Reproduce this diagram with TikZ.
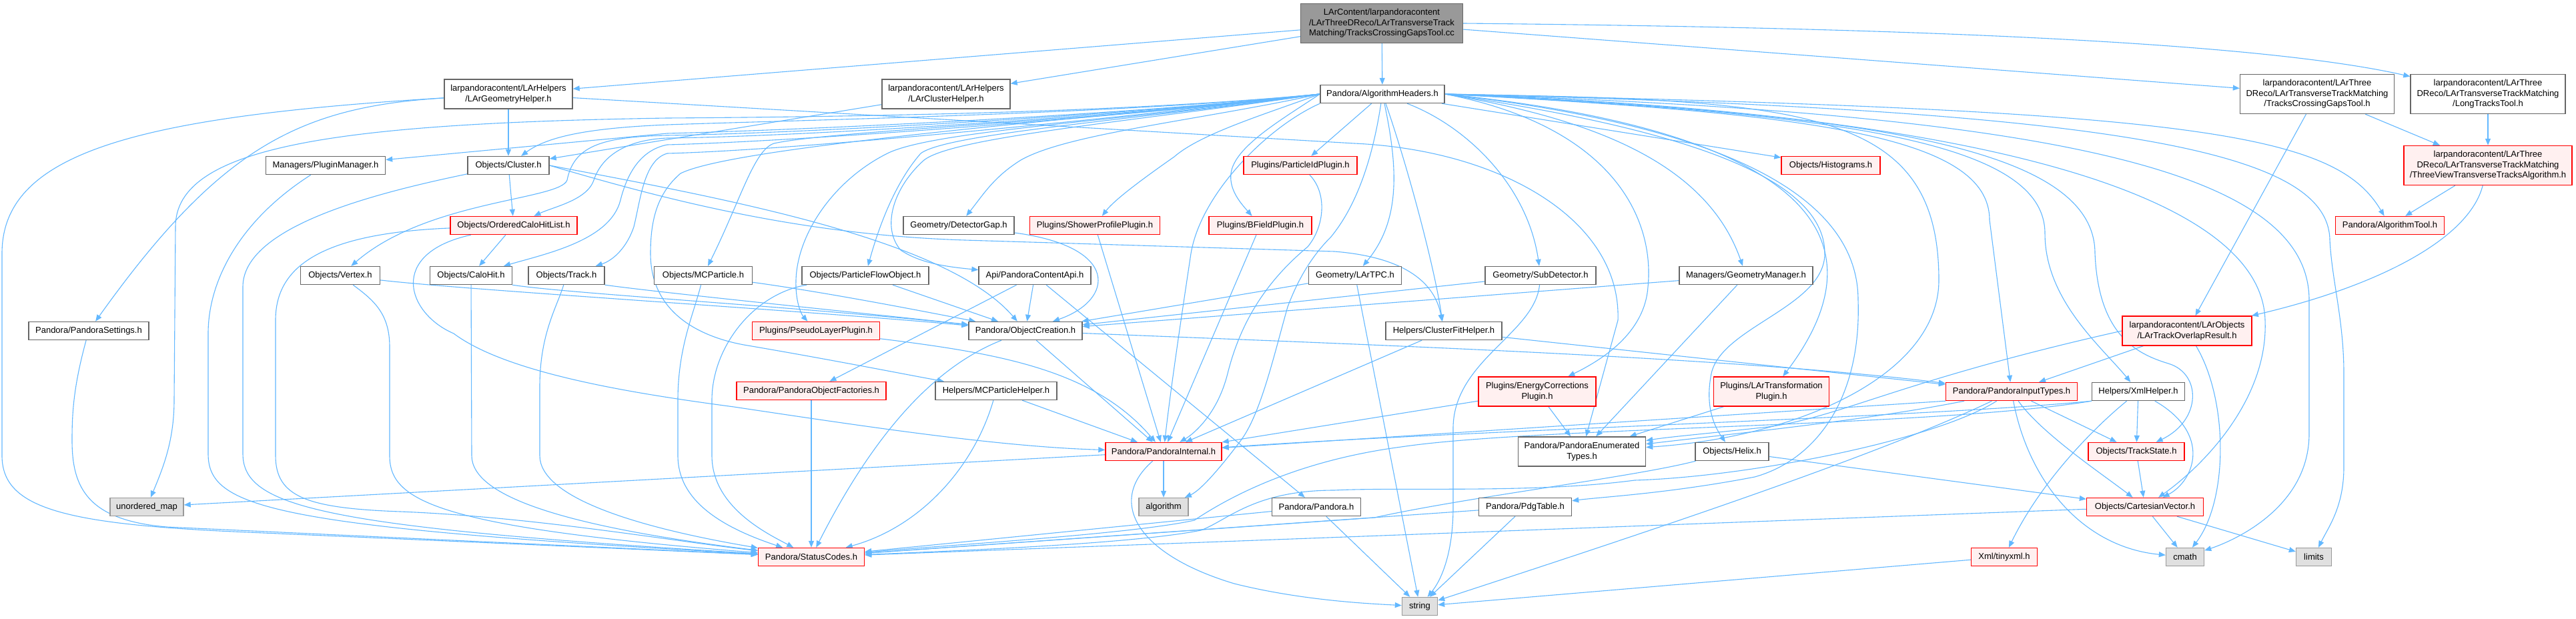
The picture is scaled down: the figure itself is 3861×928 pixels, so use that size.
\documentclass[tikz,border=0pt]{standalone}
\usepackage{fontspec}
\setmainfont{Liberation Sans}
\usetikzlibrary{arrows.meta}
\definecolor{edgeblue}{HTML}{63B8FF}
\definecolor{nborder}{HTML}{666666}
\definecolor{redfill}{HTML}{FFF0F0}
\definecolor{sysfill}{HTML}{E0E0E0}
\definecolor{sysborder}{HTML}{999999}
\definecolor{topfill}{HTML}{999999}
\pgfdeclarelayer{bg}
\pgfsetlayers{bg,main}
\tikzset{
  nbox/.style={draw=nborder, fill=white, line width=1.4pt, inner xsep=8pt, inner ysep=3pt,
    minimum height=27pt, align=center, font=\fontsize{13pt}{15.5pt}\selectfont},
  rbox/.style={nbox, draw=red, fill=redfill},
  sbox/.style={nbox, draw=sysborder, fill=sysfill},
  tbox/.style={nbox, draw=nborder, fill=topfill},
  mw/.style={minimum width=#1pt},
  twol/.style={minimum height=44pt},
  threel/.style={minimum height=59pt},
  ed/.style={draw=edgeblue, line width=1.1pt, -{Triangle[length=10pt,width=8pt]}}
}
\begin{document}
\begin{tikzpicture}[x=1pt,y=-1pt]
\useasboundingbox (0,0) rectangle (3861,928);
% nodes
\node[tbox,threel,mw=243] (top) at (2071,35) {LArContent/larpandoracontent\\/LArThreeDReco/LArTransverseTrack\\Matching/TracksCrossingGapsTool.cc};
\node[nbox,twol,mw=192] (geo) at (762,141) {larpandoracontent/LArHelpers\\/LArGeometryHelper.h};
\node[nbox,twol,mw=192] (clh) at (1418,141) {larpandoracontent/LArHelpers\\/LArClusterHelper.h};
\node[nbox,mw=186] (ah) at (2072,141) {Pandora/AlgorithmHeaders.h};
\node[nbox,threel,mw=231] (tcgh) at (3473,141) {larpandoracontent/LArThree\\DReco/LArTransverseTrackMatching\\/TracksCrossingGapsTool.h};
\node[nbox,threel,mw=232] (ltt) at (3729,141) {larpandoracontent/LArThree\\DReco/LArTransverseTrackMatching\\/LongTracksTool.h};
\node[nbox,mw=179] (pm) at (488,248) {Managers/PluginManager.h};
\node[nbox,mw=122] (cl) at (762,248) {Objects/Cluster.h};
\node[rbox,mw=170] (pid) at (1949,248) {Plugins/ParticleIdPlugin.h};
\node[rbox,mw=148] (hist) at (2744,248) {Objects/Histograms.h};
\node[rbox,threel,mw=252] (tvt) at (3729,248) {larpandoracontent/LArThree\\DReco/LArTransverseTrackMatching\\/ThreeViewTransverseTracksAlgorithm.h};
\node[rbox,mw=190] (ochl) at (770,338) {Objects/OrderedCaloHitList.h};
\node[nbox,mw=166] (dg) at (1437,338) {Geometry/DetectorGap.h};
\node[rbox,mw=195] (spp) at (1641,338) {Plugins/ShowerProfilePlugin.h};
\node[rbox,mw=154] (bfp) at (1889,338) {Plugins/BFieldPlugin.h};
\node[rbox,mw=163] (at) at (3582,338) {Pandora/AlgorithmTool.h};
\node[nbox,mw=119] (vx) at (510,413) {Objects/Vertex.h};
\node[nbox,mw=123] (ch) at (706,413) {Objects/CaloHit.h};
\node[nbox,mw=114] (tr) at (849,413) {Objects/Track.h};
\node[nbox,mw=147] (mcp) at (1054,413) {Objects/MCParticle.h};
\node[nbox,mw=190] (pfo) at (1297,413) {Objects/ParticleFlowObject.h};
\node[nbox,mw=168] (api) at (1551,413) {Api/PandoraContentApi.h};
\node[nbox,mw=139] (tpc) at (2031,413) {Geometry/LArTPC.h};
\node[nbox,mw=166] (sd) at (2309,413) {Geometry/SubDetector.h};
\node[nbox,mw=200] (gm) at (2617,413) {Managers/GeometryManager.h};
\node[nbox,mw=180] (ps) at (133,496) {Pandora/PandoraSettings.h};
\node[rbox,mw=191] (plp) at (1223,496) {Plugins/PseudoLayerPlugin.h};
\node[nbox,mw=170] (oc) at (1537,496) {Pandora/ObjectCreation.h};
\node[nbox,mw=174] (cfh) at (2164,496) {Helpers/ClusterFitHelper.h};
\node[rbox,twol,mw=194] (tor) at (3278,496) {larpandoracontent/LArObjects\\/LArTrackOverlapResult.h};
\node[rbox,mw=224] (pof) at (1216,586) {Pandora/PandoraObjectFactories.h};
\node[nbox,mw=182] (mch) at (1493,586) {Helpers/MCParticleHelper.h};
\node[rbox,twol,mw=176] (ecp) at (2304,587) {Plugins/EnergyCorrections\\Plugin.h};
\node[rbox,twol,mw=173] (ltp) at (2655,587) {Plugins/LArTransformation\\Plugin.h};
\node[rbox,mw=197] (pit) at (3015,587) {Pandora/PandoraInputTypes.h};
\node[nbox,mw=139] (xh) at (3205,587) {Helpers/XmlHelper.h};
\node[rbox,mw=174] (pi) at (1744,677) {Pandora/PandoraInternal.h};
\node[nbox,twol,mw=191] (pet) at (2371,677) {Pandora/PandoraEnumerated\\Types.h};
\node[nbox,mw=110] (hx) at (2596,677) {Objects/Helix.h};
\node[rbox,mw=144] (ts) at (3202,677) {Objects/TrackState.h};
\node[sbox,mw=110] (um) at (220,760) {unordered\_map};
\node[sbox,mw=74] (alg) at (1744,760) {algorithm};
\node[nbox,mw=133] (pan) at (1973,760) {Pandora/Pandora.h};
\node[nbox,mw=139] (pdg) at (2286,760) {Pandora/PdgTable.h};
\node[rbox,mw=175] (cv) at (3215,760) {Objects/CartesianVector.h};
\node[rbox,mw=159] (sc) at (1216,835) {Pandora/StatusCodes.h};
\node[rbox,mw=99] (txml) at (3004,835) {Xml/tinyxml.h};
\node[sbox,mw=57] (cmath) at (3275,835) {cmath};
\node[sbox,mw=53] (lim) at (3468,835) {limits};
\node[sbox,mw=53] (str) at (2128,909) {string};

\begin{pgfonlayer}{bg}
\fill[white] (0,0) rectangle (3861,928);
% top
\draw[ed] (top) -- (geo);
\draw[ed] (top) -- (clh);
\draw[ed] (top) -- (ah);
\draw[ed] (top) -- (tcgh);
\draw[ed] (top.east) .. controls (2700,40) and (3350,55) .. (ltt);
% geometry helper
\draw[ed] (geo) -- (cl);
\draw[ed] (geo) .. controls (450,160) and (330,220) .. (ps);
\draw[ed] (geo) .. controls (200,175) and (3,230) .. (3,380) -- (3,683) .. controls (3,760) and (90,785) .. (350,797) -- (sc);
\draw[ed] (geo) -- (2030,215) .. controls (2250,225) and (2430,330) .. (2425,480) -- (pet);
\draw[ed] (clh) -- (cl);
% algorithm headers, left fan
\draw[ed] (ah.west) .. controls (1700,168) and (1300,175) .. (1000,177) .. controls (500,185) and (263,220) .. (263,340) -- (261,600) .. controls (261,660) and (245,700) .. (um);
\draw[ed] (ah.west) .. controls (1700,170) and (1200,180) .. (1000,187) .. controls (880,192) and (820,205) .. (cl);
\draw[ed] (ah.west) .. controls (1700,172) and (1200,195) .. (1000,200) -- (pm);
\draw[ed] (ah.west) .. controls (1700,172) and (1200,200) .. (1000,203) .. controls (900,205) and (860,220) .. (850,270) .. controls (840,300) and (640,300) .. (vx);
\draw[ed] (ah.west) .. controls (1700,173) and (1200,205) .. (1000,207) .. controls (930,210) and (900,240) .. (890,270) .. controls (880,300) and (830,310) .. (ochl);
\draw[ed] (ah.west) .. controls (1700,174) and (1200,212) .. (1000,217) .. controls (960,225) and (940,260) .. (930,300) .. controls (915,360) and (820,380) .. (ch);
\draw[ed] (ah.west) .. controls (1700,175) and (1200,225) .. (1000,230) .. controls (965,240) and (960,300) .. (950,340) .. controls (940,370) and (920,390) .. (tr);
\draw[ed] (ah.west) .. controls (1600,180) and (1100,220) .. (1020,260) .. controls (985,290) and (975,330) .. (975,380) .. controls (975,470) and (1050,505) .. (1115,517) .. controls (1250,540) and (1350,560) .. (mch);
\draw[ed] (ah.west) .. controls (1700,178) and (1250,195) .. (1160,215) .. controls (1130,225) and (1110,300) .. (mcp);
\draw[ed] (ah.west) .. controls (1700,180) and (1400,195) .. (1330,230) .. controls (1250,270) and (1195,350) .. (1193,420) .. controls (1192,450) and (1200,470) .. (plp);
\draw[ed] (ah.west) .. controls (1700,180) and (1420,200) .. (1380,230) .. controls (1345,270) and (1320,330) .. (pfo);
\draw[ed] (ah.west) .. controls (1700,182) and (1430,205) .. (1385,240) .. controls (1340,280) and (1320,340) .. (1350,375) .. controls (1380,395) and (1420,400) .. (api);
\draw[ed] (ah.west) .. controls (1800,180) and (1600,200) .. (1530,240) .. controls (1490,265) and (1475,290) .. (dg);
\draw[ed] (ah.west) .. controls (1900,170) and (1800,200) .. (1760,235) .. controls (1710,270) and (1670,300) .. (spp);
\draw[ed] (ah.west) .. controls (1920,180) and (1850,220) .. (1845,260) .. controls (1842,285) and (1860,305) .. (bfp);
\draw[ed] (ah) -- (pid);
\draw[ed] (ah.south west) .. controls (1900,190) and (1800,290) .. (1785,380) .. controls (1770,480) and (1755,580) .. (pi);
\draw[ed] (ah) .. controls (2060,220) and (2040,300) .. (1995,355) .. controls (1965,385) and (1945,420) .. (1930,460) .. controls (1910,530) and (1890,620) .. (1860,660) .. controls (1830,700) and (1800,735) .. (alg);
\draw[ed] (ah) .. controls (2095,250) and (2100,330) .. (tpc);
\draw[ed] (ah) .. controls (2110,250) and (2150,400) .. (cfh);
\draw[ed] (ah) .. controls (2200,190) and (2290,280) .. (sd);
% algorithm headers, right fan
\draw[ed] (ah.east) .. controls (2400,180) and (2560,250) .. (gm);
\draw[ed] (ah) -- (hist);
\draw[ed] (ah.east) .. controls (2420,190) and (2480,330) .. (2470,430) .. controls (2465,500) and (2400,540) .. (ecp);
\draw[ed] (ah.east) .. controls (2500,190) and (2735,260) .. (2735,380) .. controls (2735,460) and (2580,490) .. (2565,560) .. controls (2555,610) and (2570,640) .. (hx);
\draw[ed] (ah.east) .. controls (2600,190) and (2785,300) .. (2785,450) .. controls (2790,600) and (2720,690) .. (2630,715) .. controls (2500,740) and (2400,745) .. (pdg);
\draw[ed] (ah.east) .. controls (2650,190) and (2850,330) .. (ltp);
\draw[ed] (ah.east) .. controls (2700,150) and (2906,160) .. (2906,420) .. controls (2906,560) and (2700,655) .. (pet);
\draw[ed] (ah.east) .. controls (2700,170) and (2982,200) .. (2982,330) -- (pit);
\draw[ed] (ah.east) .. controls (2750,170) and (3065,210) .. (3065,350) .. controls (3065,450) and (3150,520) .. (xh);
\draw[ed] (ah.east) .. controls (2800,170) and (3140,220) .. (3140,380) .. controls (3145,500) and (3200,530) .. (3250,545) .. controls (3300,560) and (3300,630) .. (ts);
\draw[ed] (ah.east) .. controls (3000,170) and (3390,300) .. (3395,480) .. controls (3400,600) and (3300,700) .. (cv);
\draw[ed] (ah.east) .. controls (3100,170) and (3461,260) .. (3461,450) -- (3461,650) .. controls (3461,760) and (3350,810) .. (cmath);
\draw[ed] (ah.east) .. controls (3200,165) and (3490,230) .. (3492,360) .. controls (3495,420) and (3513,480) .. (3513,560) -- (3513,700) .. controls (3513,760) and (3490,790) .. (lim);
\draw[ed] (ah.east) .. controls (3300,165) and (3500,200) .. (at);
% cluster and hits
\draw[ed] (cl) -- (ochl);
\draw[ed] (cl) .. controls (560,290) and (364,340) .. (364,430) -- (364,680) .. controls (364,760) and (480,790) .. (sc);
\draw[ed] (cl.east) .. controls (1100,300) and (1420,360) .. (oc);
\draw[ed] (cl.east) .. controls (1000,300) and (1200,352) .. (1446,360) -- (2000,377) .. controls (2100,385) and (2150,420) .. (cfh);
\draw[ed] (ochl) -- (ch);
\draw[ed] (ochl) .. controls (480,350) and (413,400) .. (413,480) -- (413,683) .. controls (413,745) and (460,762) .. (600,767) .. controls (800,775) and (1000,810) .. (sc);
\draw[ed] (ochl) .. controls (580,380) and (610,470) .. (680,500) .. controls (760,560) and (950,590) .. (1100,610) .. controls (1300,640) and (1500,670) .. (pi);
\draw[ed] (vx) .. controls (700,435) and (1200,465) .. (oc);
\draw[ed] (vx) .. controls (560,450) and (584,470) .. (584,520) -- (584,683) .. controls (584,750) and (650,790) .. (sc);
\draw[ed] (ch.south east) .. controls (850,440) and (1200,460) .. (oc);
\draw[ed] (ch) -- (707,683) .. controls (707,745) and (850,790) .. (sc);
\draw[ed] (tr.south east) .. controls (1000,440) and (1300,470) .. (oc);
\draw[ed] (tr) .. controls (835,460) and (809,500) .. (809,580) -- (809,683) .. controls (809,745) and (950,790) .. (sc);
\draw[ed] (mcp) .. controls (1250,440) and (1400,470) .. (oc);
\draw[ed] (mcp) .. controls (1040,470) and (1016,520) .. (1016,600) -- (1016,683) .. controls (1016,750) and (1080,790) .. (sc);
\draw[ed] (pfo) -- (oc);
\draw[ed] (pfo) .. controls (1130,440) and (1067,520) .. (1067,600) -- (1067,683) .. controls (1067,760) and (1150,800) .. (sc);
\draw[ed] (api) -- (oc);
\draw[ed] (api) -- (pof);
\draw[ed] (api) -- (pan);
\draw[ed] (dg) .. controls (1680,370) and (1670,450) .. (oc);
\draw[ed] (spp) -- (pi);
\draw[ed] (bfp) -- (pi);
\draw[ed] (pid) .. controls (1990,290) and (1985,340) .. (1960,370) .. controls (1900,420) and (1860,480) .. (1840,560) .. controls (1825,620) and (1790,650) .. (pi);
\draw[ed] (plp) .. controls (1500,530) and (1640,555) .. (pi);
\draw[ed] (oc) -- (pi);
\draw[ed] (oc) .. controls (1400,550) and (1310,650) .. (sc);
\draw[ed] (oc) .. controls (2000,515) and (2600,535) .. (pit);
\draw[ed] (mch) -- (pi);
\draw[ed] (mch) .. controls (1460,700) and (1380,790) .. (sc);
\draw[ed] (pof) -- (sc);
\draw[ed] (cfh) -- (pit);
\draw[ed] (cfh) -- (pi);
% geometry
\draw[ed] (tpc) -- (oc);
\draw[ed] (tpc) -- (str);
\draw[ed] (sd) -- (oc);
\draw[ed] (sd) .. controls (2300,500) and (2180,540) .. (2178,640) -- (2178,760) .. controls (2178,830) and (2160,870) .. (str);
\draw[ed] (gm) -- (oc);
\draw[ed] (gm) -- (pet);
\draw[ed] (ecp) -- (pet);
\draw[ed] (ecp) -- (pi);
\draw[ed] (ltp) -- (pet);
% input types, xml
\draw[ed] (pit.south west) -- (pi);
\draw[ed] (pit) .. controls (2800,630) and (2600,650) .. (pet);
\draw[ed] (pit) .. controls (2800,690) and (2400,820) .. (str);
\draw[ed] (pit) .. controls (2900,660) and (2620,715) .. (2450,720) .. controls (2300,740) and (2100,730) .. (2000,735) .. controls (1880,735) and (1840,780) .. (1800,795) .. controls (1700,815) and (1450,825) .. (sc);
\draw[ed] (pit) -- (ts);
\draw[ed] (pit) .. controls (3060,650) and (3150,710) .. (cv);
\draw[ed] (pit) .. controls (3040,720) and (3120,820) .. (cmath);
\draw[ed] (xh) -- (ts);
\draw[ed] (xh) .. controls (3315,650) and (3290,720) .. (cv);
\draw[ed] (xh) .. controls (3140,640) and (3060,720) .. (txml);
\draw[ed] (xh.south west) .. controls (2900,625) and (2200,645) .. (pi);
\draw[ed] (xh.south west) .. controls (2900,640) and (2300,640) .. (2100,670) .. controls (1950,690) and (1850,740) .. (1790,780) .. controls (1700,800) and (1450,815) .. (sc);
\draw[ed] (tor) -- (pit);
\draw[ed] (tor) .. controls (3340,600) and (3340,750) .. (cmath);
\draw[ed] (tor.west) .. controls (2850,570) and (2760,625) .. (2650,640) .. controls (2560,650) and (2500,655) .. (pet);
\draw[ed] (ts) -- (cv);
\draw[ed] (cv) -- (cmath);
\draw[ed] (cv) -- (lim);
\draw[ed] (cv) -- (sc);
\draw[ed] (hx) -- (cv);
\draw[ed] (hx) .. controls (2450,715) and (2200,745) .. (2060,776) -- (sc);
\draw[ed] (pdg) -- (str);
\draw[ed] (pdg) -- (sc);
\draw[ed] (pan) -- (str);
\draw[ed] (pan) -- (sc);
\draw[ed] (pi) -- (um);
\draw[ed] (pi) -- (alg);
\draw[ed] (pi) .. controls (1660,750) and (1700,830) .. (1850,875) .. controls (1950,900) and (2050,905) .. (str);
\draw[ed] (txml) -- (str);
\draw[ed] (ps) .. controls (110,580) and (108,620) .. (108,660) .. controls (108,730) and (130,780) .. (250,790) -- (sc);
\draw[ed] (pm) .. controls (360,330) and (312,420) .. (312,500) -- (312,680) .. controls (312,760) and (400,790) .. (sc);
% LArContent tools
\draw[ed] (tcgh) -- (tor);
\draw[ed] (tcgh) -- (tvt);
\draw[ed] (ltt) -- (tvt);
\draw[ed] (tvt) -- (at);
\draw[ed] (tvt) .. controls (3700,360) and (3560,430) .. (tor);
\end{pgfonlayer}
\end{tikzpicture}
\end{document}
